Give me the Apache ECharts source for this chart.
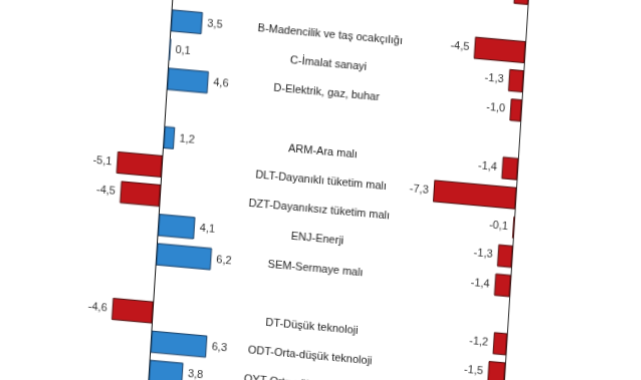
<!DOCTYPE html>
<html>
<head>
<meta charset="utf-8">
<script src="https://cdn.jsdelivr.net/npm/echarts@6/dist/echarts.min.js"></script>
<style>
  html, body { margin: 0; padding: 0; background: #fff; overflow: hidden; width: 641px; height: 380px; }
  #chart { position: absolute; left: 0; top: 0; width: 700px; height: 560px;
           transform-origin: 0 0; transform: matrix(1, 0.09, -0.063, 1, 6.3, -100); }
</style>
</head>
<body>
<div id="chart"></div>
<script>
// Row categories (top to bottom); blank strings are spacer rows
const categories = [
  'Sanayi', ' ', 'B-Madencilik ve taş ocakçılığı', 'C-İmalat sanayi', 'D-Elektrik, gaz, buhar', '  ',
  'ARM-Ara malı', 'DLT-Dayanıklı tüketim malı', 'DZT-Dayanıksız tüketim malı', 'ENJ-Enerji',
  'SEM-Sermaye malı', '   ', 'DT-Düşük teknoloji', 'ODT-Orta-düşük teknoloji',
  'OYT-Orta-yüksek teknoloji', 'YT-Yüksek teknoloji'
];
// Left panel values
const leftValues = [null, null, 3.5, 0.1, 4.6, null, 1.2, -5.1, -4.5, 4.1, 6.2, null, -4.6, 6.3, 3.8, -7.0];
// Right panel values
const rightValues = [-1.3, null, -4.5, -1.3, -1.0, null, -1.4, -7.3, -0.1, -1.3, -1.4, null, -1.2, -1.5, null, null];

const fmt = v => v.toFixed(1).replace('.', ',');
const FONT = "'Liberation Sans', Arial, sans-serif";

function barData(values, colored) {
  return values.map(v => {
    if (v === null) return null;
    const pos = v >= 0;
    return {
      value: v,
      itemStyle: colored && pos
        ? { color: '#2f86cf', borderColor: '#173e66', borderWidth: 1 }
        : { color: '#c0161b', borderColor: '#4d0808', borderWidth: 1 },
      label: { position: pos ? 'right' : 'left' }
    };
  });
}

const chart = echarts.init(document.getElementById('chart'));
const GT = 32, GH = 467.2;
chart.setOption({
  animation: false,
  grid: [
    { left: 38.75, top: GT, width: 221.25, height: GH },
    { left: 412.5, top: GT, width: 169.5, height: GH },
    { left: 400, top: GT, width: 5, height: GH }
  ],
  xAxis: [
    { gridIndex: 0, type: 'value', min: -15, max: 10, show: false },
    { gridIndex: 1, type: 'value', min: -10, max: 5, show: false },
    { gridIndex: 2, type: 'value', min: 0, max: 1, show: false }
  ],
  yAxis: [
    { gridIndex: 0, type: 'category', data: categories, inverse: true,
      axisLine: { show: true, onZero: true, lineStyle: { color: '#111', width: 1 } },
      axisTick: { show: false }, axisLabel: { show: false }, splitLine: { show: false } },
    { gridIndex: 1, type: 'category', data: categories, inverse: true,
      axisLine: { show: true, onZero: true, lineStyle: { color: '#333', width: 1 } },
      axisTick: { show: false }, axisLabel: { show: false }, splitLine: { show: false } },
    { gridIndex: 2, type: 'category', data: categories, inverse: true, position: 'left',
      axisLine: { show: false }, axisTick: { show: false }, splitLine: { show: false },
      axisLabel: { show: true, align: 'center', margin: 69.5, fontSize: 11,
                   fontFamily: FONT, color: '#1a1a1a', interval: 0 } }
  ],
  series: [
    { type: 'bar', xAxisIndex: 0, yAxisIndex: 0, data: barData(leftValues, true),
      barCategoryGap: '24%',
      label: { show: true, distance: 5, fontSize: 11, fontFamily: FONT, color: '#333',
               formatter: p => fmt(p.value) } },
    { type: 'bar', xAxisIndex: 1, yAxisIndex: 1, data: barData(rightValues, false),
      barCategoryGap: '24%',
      label: { show: true, distance: 5, fontSize: 11, fontFamily: FONT, color: '#333',
               formatter: p => fmt(p.value) } }
  ]
});
</script>
</body>
</html>
